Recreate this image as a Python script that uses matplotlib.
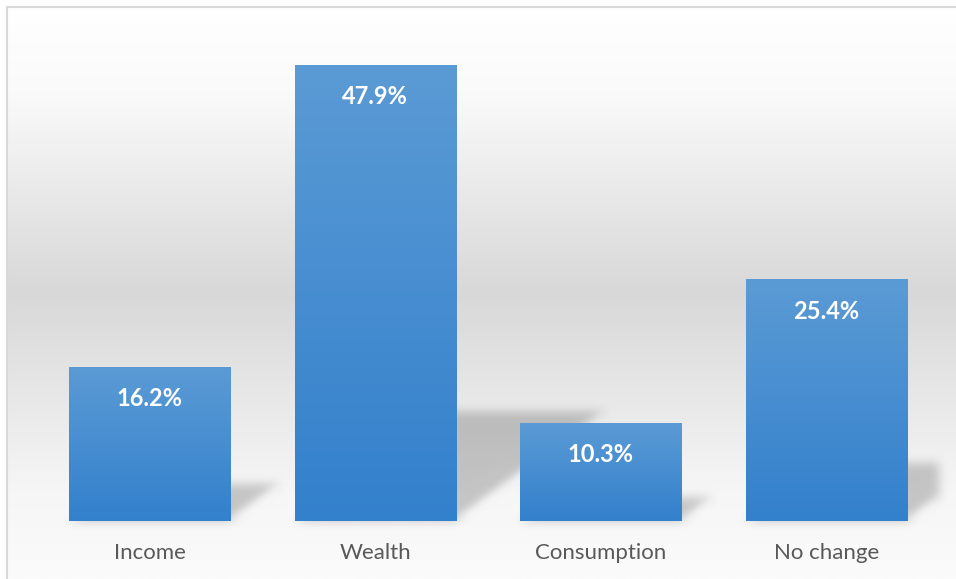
import numpy as np
import matplotlib
matplotlib.use('Agg')
import matplotlib.pyplot as plt
from matplotlib.colors import LinearSegmentedColormap
from matplotlib.patches import Polygon, Rectangle

categories = ['Income', 'Wealth', 'Consumption', 'No change']
shares = [16.2, 47.9, 10.3, 25.4]
value_labels = ['16.2%', '47.9%', '10.3%', '25.4%']

BAR_TOP = '#5b9bd5'
BAR_BOTTOM = '#3380cc'
TEXT_GREY = '#595959'
FONT = 'Lato'

W, H = 956, 579


def blur_filter(im, dpi, sigma=5):
    # gaussian blur for the soft bar shadows
    pad = 3 * sigma
    padded = np.pad(im, ((pad, pad), (pad, pad), (0, 0)))
    k = np.exp(-0.5 * (np.arange(-pad, pad + 1) / sigma) ** 2)
    k /= k.sum()
    out = np.apply_along_axis(lambda r: np.convolve(r, k, mode='same'), 0, padded)
    out = np.apply_along_axis(lambda r: np.convolve(r, k, mode='same'), 1, out)
    return out, -pad, -pad


fig = plt.figure(figsize=(W / 100, H / 100), dpi=100)
fig.patch.set_facecolor('white')

# chart area background: white -> grey -> white
bg = fig.add_axes([7 / W, 0, 1 - 7 / W, 1 - 7 / H], zorder=0)
bg_cmap = LinearSegmentedColormap.from_list(
    'bg', [(0, '#ffffff'), (0.15, '#fafafa'), (0.5, '#d8d8d8'),
           (0.85, '#f6f6f6'), (1, '#fbfbfb')])
bg.imshow(np.linspace(0, 1, 256).reshape(-1, 1), cmap=bg_cmap, aspect='auto',
          extent=(0, 1, 0, 1), origin='upper', interpolation='bilinear')
bg.set_axis_off()
fig.add_artist(Rectangle((7 / W, -0.01), 1, 1 - 7 / H + 0.01, transform=fig.transFigure,
                         facecolor='none', edgecolor='#d9d9d9', linewidth=1.5, zorder=1))

ax = fig.add_axes([36.7 / W, 58 / H, (939.3 - 36.7) / W, (521 - 45) / H], zorder=2)
ax.patch.set_visible(False)

x = np.arange(len(categories))
width = 0.714
bars = ax.bar(x, shares, width=width, color=BAR_BOTTOM, zorder=2)

ax.set_xlim(-0.5, len(categories) - 0.5)
ax.set_ylim(0, 50)
ax.set_autoscale_on(False)

# perspective shadow cast up and to the right of each bar
px_per_unit_y = (521 - 45) / 50
px_per_unit_x = (939.3 - 36.7) / len(categories)
for xi, v in zip(x, shares):
    h_px = v * px_per_unit_y
    dx = 0.33 * h_px / px_per_unit_x
    hs = 0.24 * v
    x0, x1 = xi - width / 2, xi + width / 2
    shadow = Polygon([(x0, 0), (x1, 0), (x1 + dx, hs), (x0 + dx, hs)],
                     closed=True, facecolor='black', alpha=0.2,
                     edgecolor='none', zorder=1)
    shadow.set_agg_filter(blur_filter)
    ax.add_patch(shadow)

# vertical gradient fill on each bar
bar_cmap = LinearSegmentedColormap.from_list('bar', [BAR_TOP, BAR_BOTTOM])
grad = np.linspace(0, 1, 256).reshape(-1, 1)
for b in bars:
    bx, by = b.get_x(), b.get_y()
    im = ax.imshow(grad, cmap=bar_cmap, aspect='auto', origin='upper',
                   extent=(bx, bx + b.get_width(), by, by + b.get_height()),
                   interpolation='bilinear', zorder=3)
    im.set_clip_path(b)

for xi, v, lab in zip(x, shares, value_labels):
    ax.annotate(lab, (xi, v), xytext=(0, -23), textcoords='offset points',
                ha='center', va='center', color='white', fontsize=17,
                fontweight='bold', family=FONT, zorder=4)

ax.set_xticks(x)
ax.set_xticklabels(categories, fontsize=16, color=TEXT_GREY, family=FONT)
ax.tick_params(axis='x', length=0, pad=16)
ax.set_yticks([])
for s in ax.spines.values():
    s.set_visible(False)

fig.savefig('out.png', dpi=100)
